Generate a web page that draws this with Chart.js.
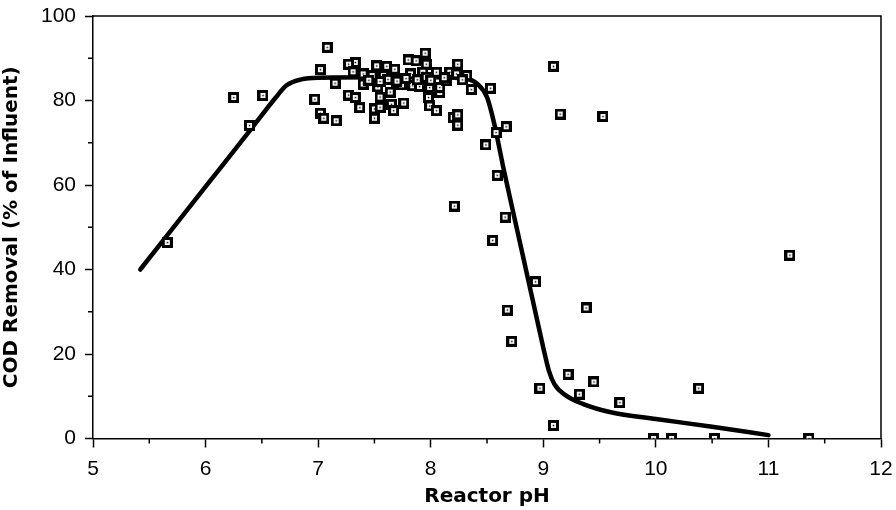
<!DOCTYPE html>
<html>
<head>
<meta charset="utf-8">
<script src="https://cdn.jsdelivr.net/npm/chart.js@4.4.1/dist/chart.umd.min.js"></script>
<style>
  html, body { margin: 0; padding: 0; background: #fff; }
</style>
</head>
<body>
<canvas id="myChart" width="896" height="510"></canvas>
<script>
// measured points (reactor pH, COD removal %)
const phValues = [
  5.66, 6.25, 6.39, 6.51,
  6.97, 7.02, 7.08, 7.02, 7.05, 7.16, 7.15, 7.27, 7.33, 7.37, 7.33, 7.27, 7.31, 7.40, 7.40, 7.48,
  7.50, 7.50, 7.53, 7.55, 7.55, 7.52, 7.61, 7.58, 7.64, 7.65, 7.67, 7.68, 7.74, 7.76,
  7.80, 7.87, 7.95, 7.96, 7.82, 7.84, 7.90, 7.93, 7.96, 7.99, 7.98, 7.99,
  8.05, 8.08, 8.08, 8.05, 8.14, 8.17, 8.23, 8.24, 8.20, 8.24, 8.24, 8.32, 8.36,
  7.45, 7.62, 7.70, 7.78, 8.00, 8.12, 8.28, 7.55, 7.88,
  8.53, 8.49, 8.58, 8.67, 8.59, 8.21, 8.66, 8.55, 8.93, 8.68, 8.72,
  9.09, 9.15, 9.53, 9.38, 9.22, 9.45, 8.97, 9.32, 9.68, 9.09,
  9.98, 10.14, 10.52, 11.36, 10.38, 11.19
];
const codValues = [
  46.4, 80.7, 74.1, 81.2,
  80.3, 87.3, 92.6, 77.0, 75.8, 75.2, 84.1, 81.3, 80.7, 78.3, 89.0, 88.6, 86.8, 83.9, 86.3, 85.9,
  78.0, 75.8, 83.2, 80.8, 78.4, 88.2, 88.1, 85.9, 82.0, 79.1, 77.6, 87.4, 83.7, 79.4,
  89.6, 89.4, 91.2, 88.6, 86.3, 83.5, 83.3, 86.7, 85.5, 83.1, 80.7, 78.7,
  77.6, 81.9, 83.1, 86.7, 84.7, 86.7, 86.3, 88.6, 76.0, 76.6, 74.2, 85.9, 82.6,
  84.8, 85.0, 84.6, 85.2, 84.8, 85.4, 84.9, 84.5, 84.9,
  82.9, 69.5, 72.4, 73.8, 62.3, 55.0, 52.4, 46.9, 37.1, 30.4, 23.0,
  88.1, 76.8, 76.2, 30.9, 15.2, 13.4, 11.9, 10.5, 8.5, 3.1,
  0, 0, 0, 0, 11.9, 43.4
];

// fitted curve
const curvePh  = [5.42, 6.0, 6.4, 6.62, 6.72, 6.85, 7.0, 7.5, 8.0, 8.3, 8.42, 8.5, 8.56, 8.65, 8.8, 8.9, 9.0, 9.05, 9.1, 9.2, 9.35, 9.6, 10.0, 10.5, 11.0];
const curveCod = [40, 59.6, 73.1, 80.6, 83.6, 85.0, 85.4, 85.5, 85.5, 85.2, 83.8, 80.8, 75, 63.5, 45.5, 33.5, 21.5, 16, 12.8, 10.2, 8.2, 6.2, 4.6, 2.8, 0.8];

const xTicks = [5, 6, 7, 8, 9, 10, 11, 12];
const yTicks = [0, 20, 40, 60, 80, 100];

// square marker with a dot in the middle
const marker = document.createElement('canvas');
marker.width = 11;
marker.height = 11;
const mctx = marker.getContext('2d');
mctx.fillStyle = '#000';
mctx.fillRect(0, 0, 11, 11);
mctx.fillStyle = '#fff';
mctx.fillRect(3, 3, 5, 5);
mctx.fillStyle = '#000';
mctx.fillRect(4.8, 4.8, 1.5, 1.5);

const frame = {
    id: 'frame',
    afterDraw(chart) {
        const c = chart.ctx;
        const a = chart.chartArea;
        const xs = chart.scales.x, ys = chart.scales.y;
        c.save();
        c.strokeStyle = '#000';
        c.lineWidth = 1.5;
        c.beginPath();
        c.moveTo(a.left, a.top);
        c.lineTo(a.right, a.top);
        c.lineTo(a.right, a.bottom);
        c.stroke();
        // minor ticks
        c.beginPath();
        for (let v = 5.5; v < 12; v += 1) {
            const px = xs.getPixelForValue(v);
            c.moveTo(px, a.bottom);
            c.lineTo(px, a.bottom + 5);
        }
        for (let v = 10; v < 100; v += 20) {
            const py = ys.getPixelForValue(v);
            c.moveTo(a.left, py);
            c.lineTo(a.left - 5, py);
        }
        c.stroke();
        c.restore();
    }
};

const ctx = document.getElementById('myChart').getContext('2d');
new Chart(ctx, {
    type: 'scatter',
    data: {
        datasets: [{
            data: phValues.map((x, i) => ({ x: x, y: codValues[i] })),
            pointStyle: marker,
            pointRadius: 5.5,
            order: 1
        }, {
            data: curvePh.map((x, i) => ({ x: x, y: curveCod[i] })),
            showLine: true,
            borderColor: '#000',
            borderWidth: 4.5,
            pointRadius: 0,
            cubicInterpolationMode: 'monotone',
            borderCapStyle: 'round',
            order: 2
        }]
    },
    plugins: [frame],
    options: {
        responsive: false,
        animation: false,
        devicePixelRatio: 1,
        layout: { padding: { top: 16, right: 15, left: 0, bottom: 0 } },
        plugins: { legend: { display: false }, tooltip: { enabled: false } },
        scales: {
            x: {
                type: 'linear',
                min: 5,
                max: 12,
                afterBuildTicks: (s) => { s.ticks = xTicks.map(v => ({ value: v })); },
                afterFit: (s) => { s.height = 71.5; s.paddingRight = 0; s.paddingLeft = 0; },
                border: { color: '#000', width: 1.5 },
                grid: { drawOnChartArea: false, drawTicks: true, tickLength: 9, tickColor: '#000', tickWidth: 1.5 },
                ticks: { color: '#000', padding: 9, maxRotation: 0, font: { family: 'Liberation Sans', size: 21 } },
                title: {
                    display: true,
                    text: 'Reactor pH',
                    color: '#000',
                    padding: { top: 0, bottom: 1 },
                    font: { family: 'DejaVu Sans', size: 20, weight: 'bold' }
                }
            },
            y: {
                min: 0,
                max: 100,
                afterBuildTicks: (s) => { s.ticks = yTicks.map(v => ({ value: v })); },
                afterFit: (s) => { s.width = 93; s.paddingTop = 0; s.paddingBottom = 0; },
                border: { color: '#000', width: 1.5 },
                grid: { drawOnChartArea: false, drawTicks: true, tickLength: 8, tickColor: '#000', tickWidth: 1.5 },
                ticks: { color: '#000', padding: 9, font: { family: 'Liberation Sans', size: 21 } },
                title: {
                    display: true,
                    text: 'COD Removal (% of Influent)',
                    color: '#000',
                    padding: { top: 0, bottom: 0 },
                    font: { family: 'DejaVu Sans', size: 20, weight: 'bold' }
                }
            }
        }
    }
});
</script>
</body>
</html>
